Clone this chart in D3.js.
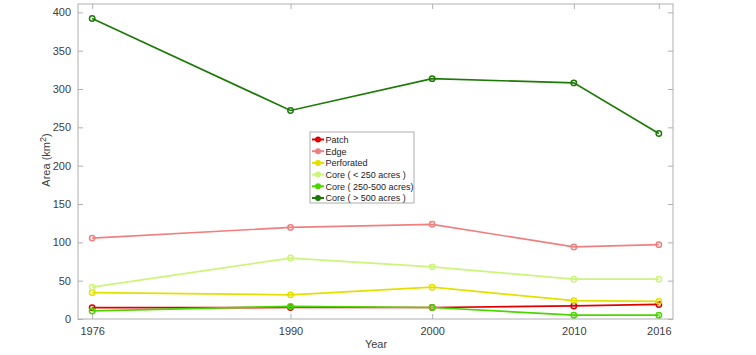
<!DOCTYPE html>
<html><head><meta charset="utf-8">
<script src="https://cdn.jsdelivr.net/npm/d3@7"></script>
<style>body{margin:0;background:#fff;} text{font-family:"Liberation Sans",Arial,sans-serif;}</style>
</head><body><svg id="c" width="756" height="355"></svg>
<script>
const years = [1976, 1990, 2000, 2010, 2016];
const seriesNames = ["Patch", "Edge", "Perforated", "Core ( < 250 acres )", "Core ( 250-500 acres)", "Core ( > 500 acres )"];
const patch = [14.8, 15, 15, 17, 19];
const edge = [105.5, 119.5, 123.5, 94, 97];
const perforated = [34.5, 31.5, 41.5, 24, 23];
const coreSmall = [41.5, 79.5, 68, 52, 52];
const coreMid = [10.5, 16.5, 15, 5, 5];
const coreLarge = [392, 272, 313.5, 308, 242];
const colors = ["#e00000", "#f08080", "#e3e000", "#ccf57a", "#4cd600", "#1e7a08"];
const yTicks = [0, 50, 100, 150, 200, 250, 300, 350, 400];
const xTicks = years;

const data = [patch, edge, perforated, coreSmall, coreMid, coreLarge];
const svg = d3.select("#c");
const L = 78, R = 673, T = 4, B = 319;
const x = d3.scaleLinear().domain([1975, 2017]).range([L, R]);
const y = d3.scaleLinear().domain([0, 410.9]).range([B, T]);
const axisColor = "#b0b0b0", textColor = "#404040";

const g = svg.append("g");
g.append("rect").attr("x", L).attr("y", T).attr("width", R - L).attr("height", B - T)
  .attr("fill", "none").attr("stroke", axisColor).attr("stroke-width", 1);

const ax = (sel) => { sel.select(".domain").remove(); sel.selectAll("line").attr("stroke", axisColor); sel.selectAll("text").attr("fill", textColor).style("font-size", "11px"); };
g.append("g").attr("transform", `translate(0,${B})`).call(d3.axisBottom(x).tickValues(xTicks).tickFormat(d3.format("d")).tickSize(-5).tickPadding(8)).call(ax);
g.append("g").attr("transform", `translate(0,${T})`).call(d3.axisTop(x).tickValues(xTicks).tickFormat("").tickSize(-5)).call(ax);
g.append("g").attr("transform", `translate(${L},0)`).call(d3.axisLeft(y).tickValues(yTicks).tickSize(-5).tickPadding(7)).call(ax);
g.append("g").attr("transform", `translate(${R},0)`).call(d3.axisRight(y).tickValues(yTicks).tickFormat("").tickSize(-5)).call(ax);

svg.append("text").attr("x", 376).attr("y", 348).attr("text-anchor", "middle").attr("fill", textColor).style("font-size", "11px").text("Year");
const yl = svg.append("text").attr("transform", "translate(50,160) rotate(-90)").attr("text-anchor", "middle").attr("fill", textColor).style("font-size", "11px");
yl.append("tspan").text("Area (km");
yl.append("tspan").attr("dy", -4).style("font-size", "9px").text("2");
yl.append("tspan").attr("dy", 4).text(")");

const line = d3.line().x((d, i) => x(years[i])).y(d => y(d));
data.forEach((s, k) => {
  g.append("path").datum(s).attr("d", line).attr("fill", "none").attr("stroke", colors[k]).attr("stroke-width", 1.7);
  g.selectAll(null).data(s).enter().append("circle")
    .attr("cx", (d, i) => x(years[i])).attr("cy", d => y(d)).attr("r", 2.7)
    .attr("fill", "none").attr("stroke", colors[k]).attr("stroke-width", 1.5);
});

const lg = svg.append("g").attr("transform", "translate(310,132)");
lg.append("rect").attr("width", 104).attr("height", 71).attr("fill", "#fff").attr("stroke", "#999").attr("stroke-width", 0.8);
seriesNames.forEach((n, k) => {
  const yy = 7.5 + k * 11.7;
  lg.append("line").attr("x1", 2).attr("x2", 14).attr("y1", yy).attr("y2", yy).attr("stroke", colors[k]).attr("stroke-width", 2);
  lg.append("circle").attr("cx", 8).attr("cy", yy).attr("r", 2.4).attr("fill", colors[k]).attr("stroke", colors[k]).attr("stroke-width", 1.2);
  lg.append("text").attr("x", 15.5).attr("y", yy + 3.3).attr("fill", "#222").style("font-size", "9px").text(n);
});
</script></body></html>
